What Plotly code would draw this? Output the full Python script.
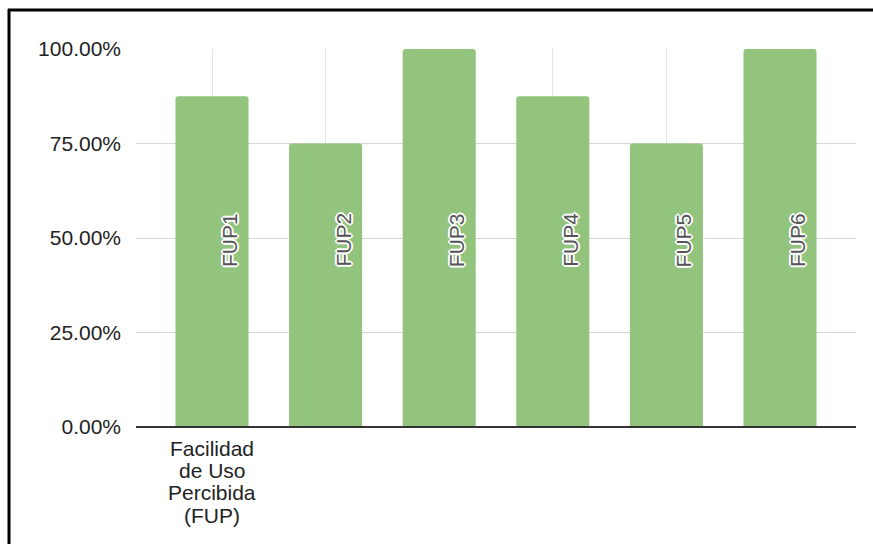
import plotly.graph_objects as go

series = ["FUP1", "FUP2", "FUP3", "FUP4", "FUP5", "FUP6"]
values = [0.875, 0.75, 1.0, 0.875, 0.75, 1.0]
category_lines = ["Facilidad", "de Uso", "Percibida", "(FUP)"]
y_ticks = [0, 0.25, 0.5, 0.75, 1.0]
y_tick_text = ["0.00%", "25.00%", "50.00%", "75.00%", "100.00%"]

W, H = 873, 544
L, R, T, B = 136, 17, 49, 117
pw, ph = W - L - R, H - T - B

font = "Liberation Sans, Arial, sans-serif"
xpos = list(range(len(series)))

fig = go.Figure()
fig.add_trace(go.Bar(
    x=xpos, y=values, width=0.643,
    marker=dict(color="#93c47d", cornerradius=3, line=dict(width=0)),
    hoverinfo="skip",
))

outline = ("1px 1px 0 #fff, -1px -1px 0 #fff, 1px -1px 0 #fff, -1px 1px 0 #fff, "
           "2px 0 0 #fff, -2px 0 0 #fff, 0 2px 0 #fff, 0 -2px 0 #fff")
annotations = []
for i, name in enumerate(series):
    annotations.append(dict(
        x=i, y=0.5, xref="x", yref="y", text=name, showarrow=False,
        textangle=-90, xshift=17, yshift=-2,
        font=dict(family=font, size=21, color="#555555", shadow=outline),
    ))
for j, line in enumerate(category_lines):
    annotations.append(dict(
        x=0, y=0, xref="x", yref="y", text=line, showarrow=False,
        yanchor="middle", yshift=-(21 + j * 22.4),
        font=dict(family=font, size=21, color="#222222"),
    ))

frame_x = (9 - L) / pw
frame_y = (H - B - 10) / ph

fig.update_layout(
    width=W, height=H,
    margin=dict(l=L, r=R, t=T, b=B),
    paper_bgcolor="white", plot_bgcolor="white",
    showlegend=False,
    xaxis=dict(
        range=[-0.669, 5.669], tickvals=xpos, ticktext=[""] * len(xpos),
        showgrid=True, gridcolor="#e3e3e3", gridwidth=1,
        zeroline=False, showline=False, fixedrange=True,
    ),
    yaxis=dict(
        range=[0, 1], tickvals=y_ticks, ticktext=y_tick_text,
        showgrid=True, gridcolor="#d6d6d6", gridwidth=1,
        zeroline=False, showline=False,
        tickfont=dict(family=font, size=21, color="#222222"),
        ticklabelstandoff=14, fixedrange=True,
    ),
    annotations=annotations,
    shapes=[
        dict(type="line", xref="paper", yref="paper",
             x0=0, x1=1, y0=0, y1=0, line=dict(color="#333333", width=2), layer="above"),
        dict(type="line", xref="paper", yref="paper",
             x0=frame_x, x1=frame_x, y0=frame_y + 1 / ph, y1=-1,
             line=dict(color="black", width=3)),
        dict(type="line", xref="paper", yref="paper",
             x0=frame_x - 1 / pw, x1=2, y0=frame_y, y1=frame_y,
             line=dict(color="black", width=3)),
    ],
)

fig.write_html("out.html", config=dict(displayModeBar=False))
